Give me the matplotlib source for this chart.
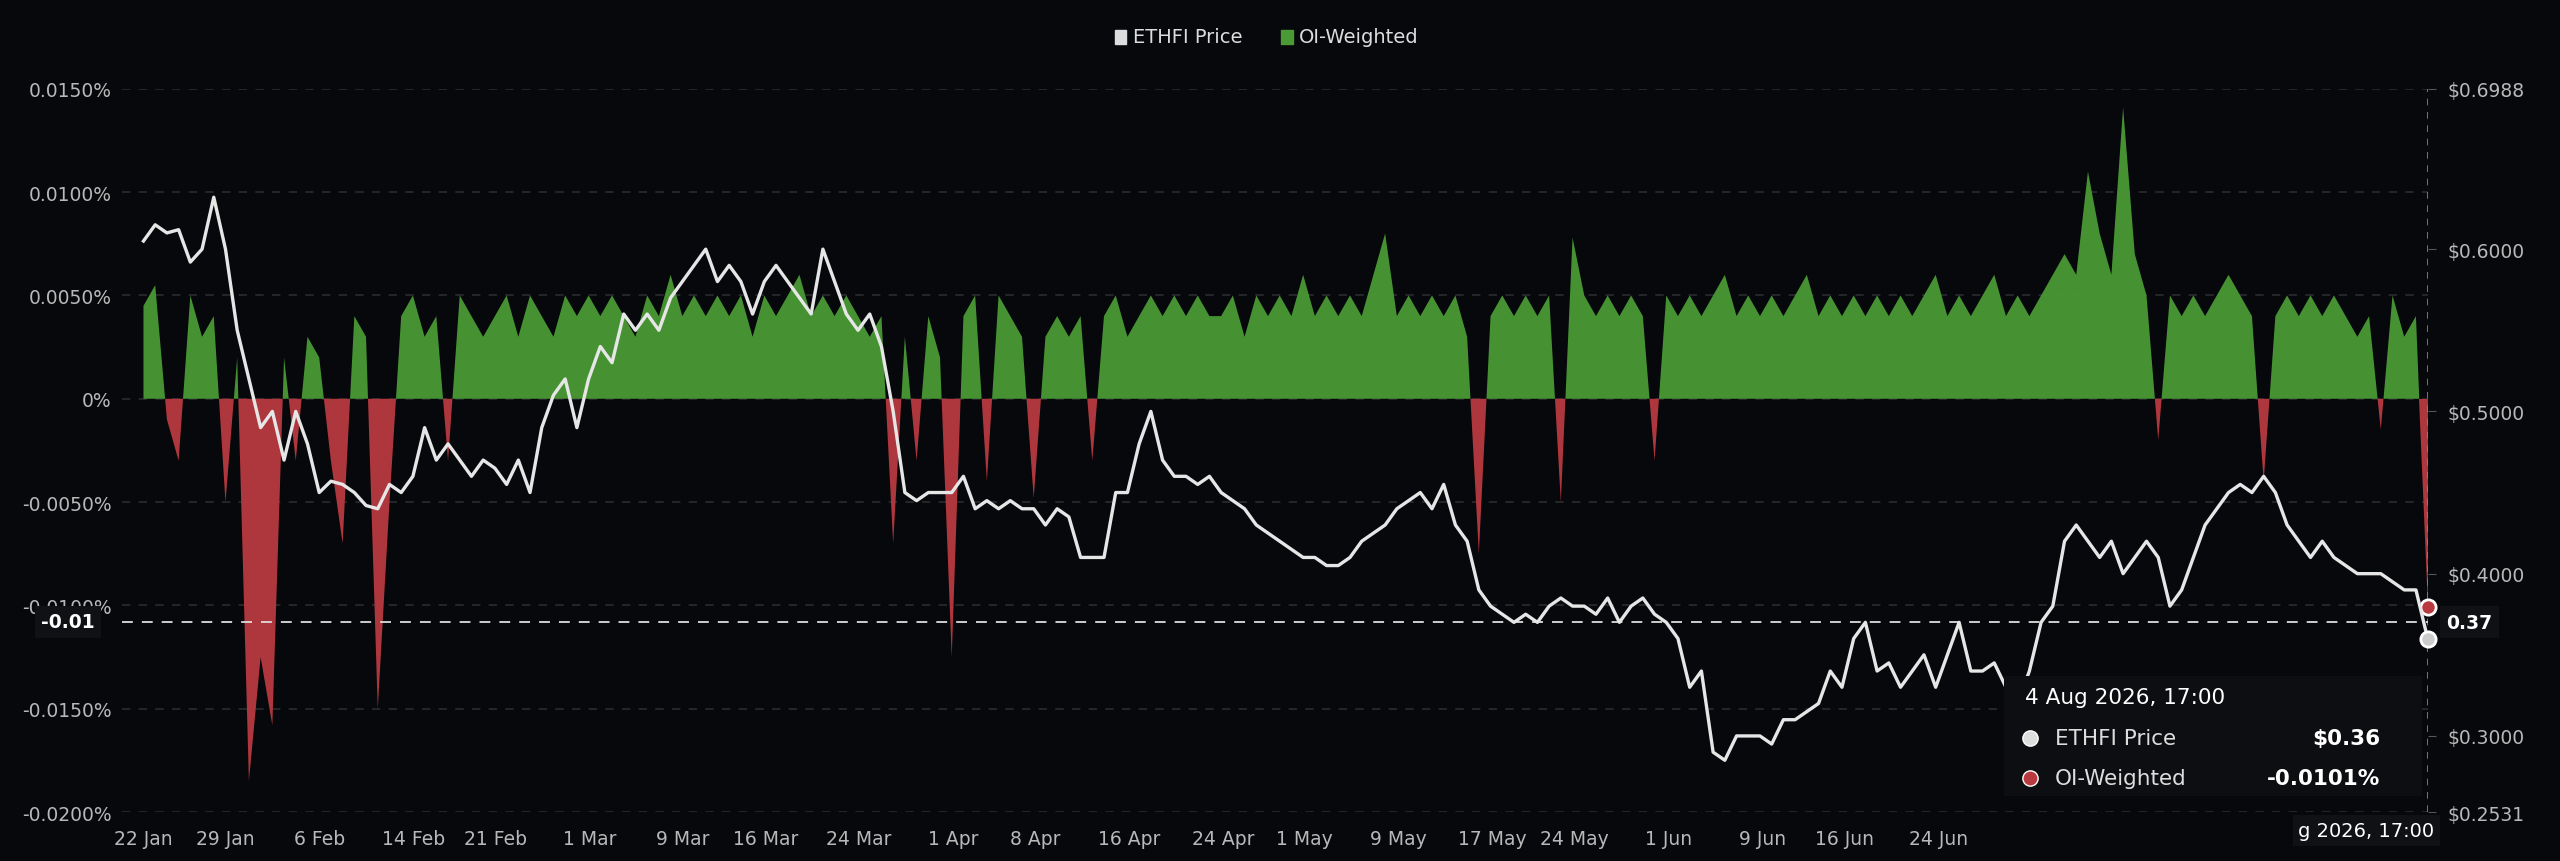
import matplotlib
matplotlib.use("Agg")
import matplotlib.pyplot as plt
import matplotlib.dates as mdates
import numpy as np
import pandas as pd

price = [
 0.605,0.615,0.610,0.612,0.592,0.600,0.632,0.600,0.550,0.520,
 0.490,0.500,0.470,0.500,0.480,0.450,0.457,0.455,0.450,0.442,
 0.440,0.455,0.450,0.460,0.490,0.470,0.480,0.470,0.460,0.470,
 0.465,0.455,0.470,0.450,0.490,0.510,0.520,0.490,0.520,0.540,
 0.530,0.560,0.550,0.560,0.550,0.570,0.580,0.590,0.600,0.580,
 0.590,0.580,0.560,0.580,0.590,0.580,0.570,0.560,0.600,0.580,
 0.560,0.550,0.560,0.540,0.500,0.450,0.445,0.450,0.450,0.450,
 0.460,0.440,0.445,0.440,0.445,0.440,0.440,0.430,0.440,0.435,
 0.410,0.410,0.410,0.450,0.450,0.480,0.500,0.470,0.460,0.460,
 0.455,0.460,0.450,0.445,0.440,0.430,0.425,0.420,0.415,0.410,
 0.410,0.405,0.405,0.410,0.420,0.425,0.430,0.440,0.445,0.450,
 0.440,0.455,0.430,0.420,0.390,0.380,0.375,0.370,0.375,0.370,
 0.380,0.385,0.380,0.380,0.375,0.385,0.370,0.380,0.385,0.375,
 0.370,0.360,0.330,0.340,0.290,0.285,0.300,0.300,0.300,0.295,
 0.310,0.310,0.315,0.320,0.340,0.330,0.360,0.370,0.340,0.345,
 0.330,0.340,0.350,0.330,0.350,0.370,0.340,0.340,0.345,0.330,
 0.320,0.340,0.370,0.380,0.420,0.430,0.420,0.410,0.420,0.400,
 0.410,0.420,0.410,0.380,0.390,0.410,0.430,0.440,0.450,0.455,
 0.450,0.460,0.450,0.430,0.420,0.410,0.420,0.410,0.405,0.400,
 0.400,0.400,0.395,0.390,0.390,0.360]

oi = [
 0.0045,0.0055,-0.0010,-0.0030,0.0050,0.0030,0.0040,-0.0050,0.0020,-0.0185,
 -0.0125,-0.0158,0.0020,-0.0030,0.0030,0.0020,-0.0030,-0.0070,0.0040,0.0030,
 -0.0150,-0.0050,0.0040,0.0050,0.0030,0.0040,-0.0030,0.0050,0.0040,0.0030,
 0.0040,0.0050,0.0030,0.0050,0.0040,0.0030,0.0050,0.0040,0.0050,0.0040,
 0.0050,0.0040,0.0030,0.0050,0.0040,0.0060,0.0040,0.0050,0.0040,0.0050,
 0.0040,0.0050,0.0030,0.0050,0.0040,0.0050,0.0060,0.0040,0.0050,0.0040,
 0.0050,0.0040,0.0030,0.0040,-0.0070,0.0030,-0.0030,0.0040,0.0020,-0.0125,
 0.0040,0.0050,-0.0040,0.0050,0.0040,0.0030,-0.0048,0.0030,0.0040,0.0030,
 0.0040,-0.0030,0.0040,0.0050,0.0030,0.0040,0.0050,0.0040,0.0050,0.0040,
 0.0050,0.0040,0.0040,0.0050,0.0030,0.0050,0.0040,0.0050,0.0040,0.0060,
 0.0040,0.0050,0.0040,0.0050,0.0040,0.0060,0.0080,0.0040,0.0050,0.0040,
 0.0050,0.0040,0.0050,0.0030,-0.0075,0.0040,0.0050,0.0040,0.0050,0.0040,
 0.0050,-0.0050,0.0078,0.0050,0.0040,0.0050,0.0040,0.0050,0.0040,-0.0030,
 0.0050,0.0040,0.0050,0.0040,0.0050,0.0060,0.0040,0.0050,0.0040,0.0050,
 0.0040,0.0050,0.0060,0.0040,0.0050,0.0040,0.0050,0.0040,0.0050,0.0040,
 0.0050,0.0040,0.0050,0.0060,0.0040,0.0050,0.0040,0.0050,0.0060,0.0040,
 0.0050,0.0040,0.0050,0.0060,0.0070,0.0060,0.0110,0.0080,0.0060,0.0141,
 0.0070,0.0050,-0.0020,0.0050,0.0040,0.0050,0.0040,0.0050,0.0060,0.0050,
 0.0040,-0.0040,0.0040,0.0050,0.0040,0.0050,0.0040,0.0050,0.0040,0.0030,
 0.0040,-0.0015,0.0050,0.0030,0.0040,-0.0101]

xtick_labels = ["22 Jan","29 Jan","6 Feb","14 Feb","21 Feb","1 Mar","9 Mar","16 Mar",
                "24 Mar","1 Apr","8 Apr","16 Apr","24 Apr","1 May","9 May","17 May",
                "24 May","1 Jun","9 Jun","16 Jun","24 Jun"]
left_ticks = [0.015,0.010,0.005,0.0,-0.005,-0.010,-0.015,-0.020]
left_labels = ["0.0150%","0.0100%","0.0050%","0%","-0.0050%","-0.0100%","-0.0150%","-0.0200%"]
right_ticks = [0.6988,0.6,0.5,0.4,0.3,0.2531]

n = min(len(price), len(oi))
price = np.array(price[:n]); oi = np.array(oi[:n])
dates = pd.date_range("2026-01-22 00:00", "2026-08-04 17:00", periods=n)
x = mdates.date2num(dates)

BG = "#07080c"; GREEN = "#4a9a35"; RED = "#b83a40"; TXT = "#b8b8b8"; GRID = "#2a2c30"
fig = plt.figure(figsize=(25.6, 8.62), dpi=100, facecolor=BG)
ax = fig.add_axes([0.0478, 0.0568, 0.9005, 0.839], facecolor=BG)
ax2 = ax.twinx()

ax.fill_between(x, 0, oi, where=oi >= 0, interpolate=True, color=GREEN, lw=0, alpha=0.95)
ax.fill_between(x, 0, oi, where=oi <= 0, interpolate=True, color=RED, lw=0, alpha=0.95)
ax2.plot(x, price, color="#e6e6e6", lw=2.4)

ax.set_ylim(-0.020, 0.015)
ax2.set_ylim(0.2531, 0.6988)
xmin = mdates.date2num(pd.Timestamp("2026-01-22")) - 1.8
ax.set_xlim(xmin, x[-1])

for t in left_ticks:
    ax.axhline(t, color=GRID, lw=1.2, ls=(0, (5, 5)), zorder=0)
ax.set_yticks(left_ticks); ax.set_yticklabels(left_labels)
ax2.set_yticks(right_ticks); ax2.set_yticklabels(["$%.4f" % right_ticks[0], "$0.6000", "$0.5000", "$0.4000", "$0.3000", "$%.4f" % right_ticks[-1]])

tick_dates = []
for lab in xtick_labels:
    tick_dates.append(mdates.date2num(pd.to_datetime(lab + " 2026", format="%d %b %Y")))
ax.set_xticks(tick_dates); ax.set_xticklabels(xtick_labels)

for a in (ax, ax2):
    for s in a.spines.values():
        s.set_visible(False)
    a.tick_params(colors=TXT, labelsize=13.5, length=0)
ax2.tick_params(axis="y", length=6, color="#555555", pad=8)
ax.tick_params(axis="x", pad=12)
ax.tick_params(axis="y", pad=8)

# crosshair
ax.axvline(x[-1], color="#888888", lw=1.2, ls=(0, (4, 4)))
ycross = -0.0108
ax.axhline(ycross, color="#dddddd", lw=1.3, ls=(0, (6, 5)))
ax.text(-0.012, ycross, "-0.01", transform=ax.get_yaxis_transform(), ha="right", va="center",
        color="white", fontsize=13.5, fontweight="bold",
        bbox=dict(boxstyle="square,pad=0.35", fc="#101114", ec="none"))
ax2.text(1.008, 0.37, "0.37", transform=ax2.get_yaxis_transform(), ha="left", va="center",
         color="white", fontsize=13.5, fontweight="bold",
         bbox=dict(boxstyle="square,pad=0.35", fc="#101114", ec="none"))
ax.plot([x[-1]], [oi[-1]], "o", ms=11, mfc=RED, mec="white", mew=2, zorder=5, clip_on=False)
ax2.plot([x[-1]], [price[-1]], "o", ms=11, mfc="#cccccc", mec="white", mew=2, zorder=5, clip_on=False)

# tooltip
tip = fig.add_axes([0.783, 0.075, 0.163, 0.14], facecolor="#0d0e11")
tip.set_xticks([]); tip.set_yticks([])
for s in tip.spines.values(): s.set_visible(False)
tip.set_xlim(0, 1); tip.set_ylim(0, 1)
tip.text(0.05, 0.82, "4 Aug 2026, 17:00", color="white", fontsize=15.5, va="center")
tip.plot([0.06], [0.48], "o", ms=11, mfc="#dddddd", mec="white")
tip.text(0.12, 0.48, "ETHFI Price", color="#dddddd", fontsize=15.5, va="center")
tip.text(0.9, 0.48, "$0.36", color="white", fontsize=15.5, va="center", ha="right", fontweight="bold")
tip.plot([0.06], [0.15], "o", ms=11, mfc=RED, mec="white")
tip.text(0.12, 0.15, "OI-Weighted", color="#dddddd", fontsize=15.5, va="center")
tip.text(0.9, 0.15, "-0.0101%", color="white", fontsize=15.5, va="center", ha="right", fontweight="bold")
fig.text(0.951, 0.035, "g 2026, 17:00", color="white", fontsize=14, ha="right", va="center",
         bbox=dict(boxstyle="square,pad=0.3", fc="#101114", ec="none"))

# legend
fig.patches.append(plt.Rectangle((0.4355, 0.948), 0.0045, 0.016, transform=fig.transFigure, color="#dddddd"))
fig.text(0.4425, 0.956, "ETHFI Price", color="#dddddd", fontsize=14, va="center")
fig.patches.append(plt.Rectangle((0.5005, 0.948), 0.0045, 0.016, transform=fig.transFigure, color=GREEN))
fig.text(0.5075, 0.956, "OI-Weighted", color="#dddddd", fontsize=14, va="center")

fig.savefig("out.png", dpi=100, facecolor=BG)
